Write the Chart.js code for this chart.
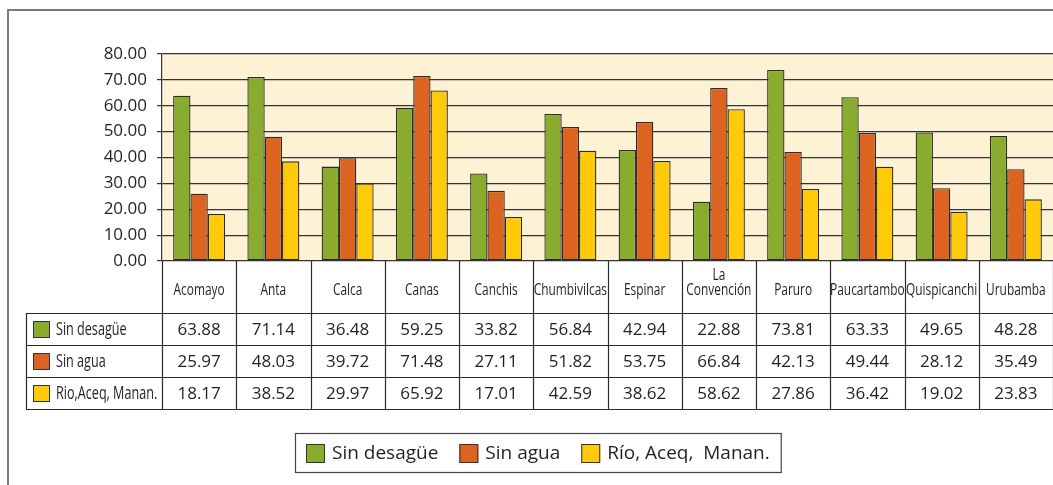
<!DOCTYPE html>
<html>
<head>
<meta charset="utf-8">
<script src="https://cdn.jsdelivr.net/npm/chart.js@4.4.1/dist/chart.umd.min.js"></script>
<style>
  body { margin: 0; background: #fff; }
  canvas { display: block; }
</style>
</head>
<body>
<canvas id="grafico" width="1053" height="485"></canvas>
<script>
// datos por provincia
const provincias = ['Acomayo', 'Anta', 'Calca', 'Canas', 'Canchis', 'Chumbivilcas', 'Espinar',
    ['La', 'Convención'], 'Paruro', 'Paucartambo', 'Quispicanchi', 'Urubamba'];
const sinDesague = [63.88, 71.14, 36.48, 59.25, 33.82, 56.84, 42.94, 22.88, 73.81, 63.33, 49.65, 48.28];
const sinAgua = [25.97, 48.03, 39.72, 71.48, 27.11, 51.82, 53.75, 66.84, 42.13, 49.44, 28.12, 35.49];
const rioAceq = [18.17, 38.52, 29.97, 65.92, 17.01, 42.59, 38.62, 58.62, 27.86, 36.42, 19.02, 23.83];
const leyenda = ['Sin desagüe', 'Sin agua', 'Río, Aceq,  Manan.'];
const filasTabla = ['Sin desagüe', 'Sin agua', 'Rio,Aceq, Manan.'];
const colores = ['#89AC2E', '#DD6320', '#FFCA0A'];

const fuenteNormal = '"Open Sans", "Noto Sans", sans-serif';

function cuadro(ctx, x, y, s, color) {
    ctx.fillStyle = color;
    ctx.fillRect(x, y, s, s);
    ctx.strokeStyle = '#333';
    ctx.lineWidth = 1;
    ctx.strokeRect(x + 0.5, y + 0.5, s - 1, s - 1);
}

function linea(ctx, x1, y1, x2, y2) {
    ctx.beginPath();
    ctx.moveTo(x1, y1);
    ctx.lineTo(x2, y2);
    ctx.stroke();
}

// texto angosto: se comprime horizontalmente
function textoAngosto(ctx, t, x, y, align, size) {
    ctx.save();
    ctx.translate(x, y);
    ctx.scale(0.7, 1);
    ctx.textAlign = align;
    ctx.font = size + 'px ' + fuenteNormal;
    ctx.fillText(t, 0, 0);
    ctx.restore();
}

const tablaPlugin = {
    id: 'tabla',
    beforeDraw(chart) {
        const { ctx, chartArea: a } = chart;
        ctx.save();
        ctx.fillStyle = '#FEF2D4';
        ctx.fillRect(a.left, a.top, a.right - a.left, a.bottom - a.top);
        // marco exterior
        ctx.strokeStyle = '#7a7a7a';
        ctx.lineWidth = 2;
        ctx.beginPath();
        ctx.moveTo(8, 485);
        ctx.lineTo(8, 10);
        ctx.lineTo(1053, 10);
        ctx.stroke();
        ctx.restore();
    },
    afterDraw(chart) {
        const { ctx, chartArea: a, scales: { x } } = chart;
        const n = provincias.length;
        const anchoCat = (a.right - a.left) / n;
        const topFilas = a.bottom + 52;
        const altoFila = 32;
        const fondo = topFilas + altoFila * 3;
        const izqTabla = 26;
        const series = [sinDesague, sinAgua, rioAceq];

        ctx.save();
        ctx.strokeStyle = '#2a2a2a';
        ctx.lineWidth = 1.2;
        // lineas verticales de la tabla
        for (let i = 0; i <= n; i++) {
            const px = Math.round(x.getPixelForValue(0) - anchoCat / 2 + i * anchoCat) + 0.5;
            linea(ctx, px, a.bottom, px, fondo);
        }
        linea(ctx, izqTabla + 0.5, topFilas, izqTabla + 0.5, fondo);
        for (let r = 0; r <= 3; r++) {
            const py = Math.round(topFilas + r * altoFila) + 0.5;
            linea(ctx, izqTabla, py, a.right, py);
        }

        // nombres de provincias
        ctx.fillStyle = '#231F20';
        ctx.textBaseline = 'middle';
        provincias.forEach((p, i) => {
            const lineas = Array.isArray(p) ? p : [p];
            const cx = x.getPixelForValue(i);
            lineas.forEach((t, j) => {
                textoAngosto(ctx, t, cx, a.bottom + 29 - (lineas.length - 1 - j) * 15, 'center', 17);
            });
        });

        // filas de valores
        series.forEach((valores, r) => {
            const cy = topFilas + r * altoFila + altoFila / 2 + 1;
            cuadro(ctx, 33, Math.round(cy - 9), 17, colores[r]);
            ctx.fillStyle = '#231F20';
            textoAngosto(ctx, filasTabla[r], 56, cy, 'left', 18);
            ctx.textAlign = 'center';
            ctx.font = '17px ' + fuenteNormal;
            valores.forEach((v, i) => {
                ctx.fillText(v.toFixed(2), x.getPixelForValue(i), cy);
            });
        });

        // leyenda inferior
        ctx.font = '19px ' + fuenteNormal;
        const lado = 19, sep = 7, hueco = 21;
        let total = 0;
        leyenda.forEach((t, i) => {
            total += lado + sep + ctx.measureText(t).width + (i < leyenda.length - 1 ? hueco : 0);
        });
        const cajaX = 295, cajaY = 433, cajaW = total + 22, cajaH = 39;
        ctx.strokeStyle = '#444';
        ctx.lineWidth = 1.2;
        ctx.strokeRect(cajaX + 0.5, cajaY + 0.5, cajaW, cajaH);
        let lx = cajaX + 11;
        const ly = cajaY + cajaH / 2 + 1;
        leyenda.forEach((t, i) => {
            cuadro(ctx, lx, Math.round(ly - lado / 2), lado, colores[i]);
            lx += lado + sep;
            ctx.fillStyle = '#231F20';
            ctx.textAlign = 'left';
            ctx.fillText(t, lx, ly);
            lx += ctx.measureText(t).width + hueco;
        });
        ctx.restore();
    }
};

new Chart(document.getElementById('grafico'), {
    type: 'bar',
    data: {
        labels: provincias,
        datasets: [
            { label: leyenda[0], data: sinDesague, backgroundColor: colores[0] },
            { label: leyenda[1], data: sinAgua, backgroundColor: colores[1] },
            { label: leyenda[2], data: rioAceq, backgroundColor: colores[2] },
        ],
    },
    options: {
        responsive: false,
        animation: false,
        layout: {
            padding: { left: 0, right: 0, top: 54, bottom: 224 },
        },
        datasets: {
            bar: {
                categoryPercentage: 0.7,
                barPercentage: 1.0,
                borderColor: '#2b2b2b',
                borderWidth: 1.3,
                borderSkipped: false,
            },
        },
        plugins: {
            legend: { display: false },
            tooltip: { enabled: false },
        },
        scales: {
            x: {
                display: false,
            },
            y: {
                min: 0,
                max: 80,
                afterFit(scale) {
                    scale.width = 162;
                },
                ticks: {
                    stepSize: 10,
                    padding: 10,
                    color: '#231F20',
                    font: { family: fuenteNormal, size: 17 },
                    callback: (v) => Number(v).toFixed(2),
                },
                grid: {
                    color: '#333',
                    lineWidth: 1.2,
                    tickLength: 5,
                },
                border: {
                    color: '#333',
                    width: 1.2,
                },
            },
        },
    },
    plugins: [tablaPlugin],
});
</script>
</body>
</html>
